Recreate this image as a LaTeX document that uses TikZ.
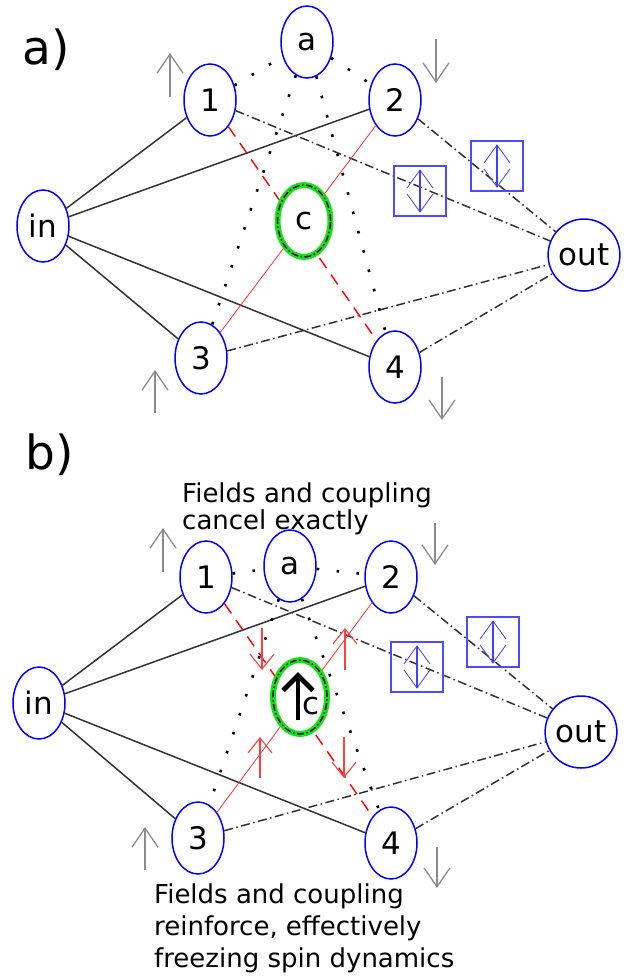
\documentclass[tikz,border=0pt]{standalone}
\usepackage{fontspec}
\setmainfont{DejaVu Sans}
\usetikzlibrary{
    shapes.geometric,
    arrows.meta,
    positioning,
    calc
}
\definecolor{ringgreen}{RGB}{25,225,25}
\definecolor{edgegray}{RGB}{50,50,50}

\begin{document}
\begin{tikzpicture}[
            x=1pt, y=-1pt,
            spin_node/.style={ellipse, draw=blue, line width=1.5pt, fill=white, minimum width=52pt, minimum height=72pt, inner sep=0pt, font=\fontsize{31}{31}\selectfont},
            centre_node/.style={ellipse, draw=ringgreen, line width=6pt, fill=white, minimum width=53pt, minimum height=72pt, inner sep=0pt, font=\fontsize{31}{31}\selectfont, postaction={draw=black, line width=1.4pt, dash pattern=on 7pt off 2.5pt on 1.5pt off 2.5pt}},
            flip_box/.style={rectangle, draw=blue!70, line width=1.3pt, minimum width=52pt, minimum height=50pt, inner sep=0pt},
            panel_label/.style={font=\fontsize{47}{47}\selectfont},
            note_text/.style={anchor=north west, inner sep=0pt, align=left},
            in_link/.style={edgegray, line width=1.5pt},
            out_link/.style={edgegray, line width=1.5pt, dash pattern=on 9pt off 3.5pt on 1.5pt off 3.5pt},
            red_dashed/.style={red, line width=1.4pt, dash pattern=on 12pt off 8pt},
            red_thin/.style={red!80, line width=0.8pt},
            loose_dots/.style={black, line width=2.6pt, dash pattern=on 2.6pt off 17.4pt},
            field_arrow/.style={-{Straight Barb[length=19pt, width=26pt]}, black!45, line width=1.3pt},
            flip_arrow/.style={{Straight Barb[length=18pt, width=26pt, line width=0.8pt]}-{Straight Barb[length=18pt, width=26pt, line width=0.8pt]}, blue!75, line width=2.2pt, shorten <=4pt, shorten >=4pt},
            red_arrow/.style={-{Straight Barb[length=15pt, width=24pt]}, red!75, line width=1.1pt},
            spin_c_arrow/.style={-{Straight Barb[length=15pt, width=30pt]}, black, line width=4.8pt}
        ]
    \useasboundingbox (0,0) rectangle (626,979);

    % panel a
    \node[panel_label] (label_top) at (46,50) {a)};

    \node[spin_node] (a_top) at (307,42) {a};

    \node[spin_node] (one_top) at (210,100) {1};

    \node[spin_node] (two_top) at (395,100) {2};

    \node[spin_node] (in_top) at (43,226) {in};

    \node[spin_node] (three_top) at (201,358) {3};

    \node[spin_node] (four_top) at (395,367) {4};

    \node[spin_node] (out_top) at (584,255) {out};

    \draw[in_link] (in_top) -- (one_top);
    \draw[in_link] (in_top) -- (two_top);
    \draw[in_link] (in_top) -- (three_top);
    \draw[in_link] (in_top) -- (four_top);

    \draw[out_link] (one_top) -- (out_top);
    \draw[out_link] (two_top) -- (out_top);
    \draw[out_link] (three_top) -- (out_top);
    \draw[out_link] (four_top) -- (out_top);

    \draw[red_dashed] (one_top) -- (four_top);
    \draw[red_thin] (two_top) -- (three_top);

    \draw[loose_dots] (one_top) -- (a_top);
    \draw[loose_dots] (a_top) -- (two_top);
    \draw[loose_dots] (a_top) -- (three_top);
    \draw[loose_dots] (a_top) -- (four_top);

    \node[centre_node] (c_top) at (304,221) {c};

    \node[flip_box] (box1_top) at (420,191) {};
    \node[flip_box] (box2_top) at (497,166) {};
    \draw[flip_arrow] (box1_top.south) -- (box1_top.north);
    \draw[flip_arrow] (box2_top.south) -- (box2_top.north);

    \draw[field_arrow] (170,97) -- (170,53);
    \draw[field_arrow] (436,39) -- (436,83);
    \draw[field_arrow] (155,413) -- (155,370);
    \draw[field_arrow] (442,377) -- (442,420);

    % panel b
    \node[panel_label] (label_bot) at (50,455) {b)};

    \node[note_text, font=\fontsize{26}{25}\selectfont] (note_cancel) at (182,483) {Fields and coupling\\cancel exactly};

    \node[spin_node] (a_bot) at (290,566) {a};

    \node[spin_node] (one_bot) at (206,577) {1};

    \node[spin_node] (two_bot) at (391,577) {2};

    \node[spin_node] (in_bot) at (39,703) {in};

    \node[spin_node] (three_bot) at (198,838) {3};

    \node[spin_node] (four_bot) at (391,843) {4};

    \node[spin_node] (out_bot) at (581,732) {out};

    \draw[in_link] (in_bot) -- (one_bot);
    \draw[in_link] (in_bot) -- (two_bot);
    \draw[in_link] (in_bot) -- (three_bot);
    \draw[in_link] (in_bot) -- (four_bot);

    \draw[out_link] (one_bot) -- (out_bot);
    \draw[out_link] (two_bot) -- (out_bot);
    \draw[out_link] (three_bot) -- (out_bot);
    \draw[out_link] (four_bot) -- (out_bot);

    \draw[red_dashed] (one_bot) -- (four_bot);
    \draw[red_thin] (two_bot) -- (three_bot);

    \draw[loose_dots] (one_bot) -- (a_bot);
    \draw[loose_dots] (a_bot) -- (two_bot);
    \draw[loose_dots] (a_bot) -- (three_bot);
    \draw[loose_dots] (a_bot) -- (four_bot);

    \node[centre_node, minimum width=54pt, minimum height=74pt] (c_bot) at (300,697) {};
    \draw[spin_c_arrow] ($(c_bot.center)+(-2,23)$) -- ($(c_bot.center)+(-2,-25)$);
    \node[font=\fontsize{31}{31}\selectfont, inner sep=0pt] (c_bot_text) at (311,706) {c};

    \draw[red_arrow] (262,628) -- (262,670);
    \draw[red_arrow] (345,670) -- (345,628);
    \draw[red_arrow] (260,778) -- (260,737);
    \draw[red_arrow] (344,737) -- (344,778);

    \node[flip_box] (box1_bot) at (417,667) {};
    \node[flip_box] (box2_bot) at (493,642) {};
    \draw[flip_arrow] (box1_bot.south) -- (box1_bot.north);
    \draw[flip_arrow] (box2_bot.south) -- (box2_bot.north);

    \draw[field_arrow] (163,572) -- (163,528);
    \draw[field_arrow] (435,523) -- (435,565);
    \draw[field_arrow] (145,870) -- (145,827);
    \draw[field_arrow] (437,847) -- (437,888);

    \node[note_text, font=\fontsize{26}{32}\selectfont] (note_freeze) at (154,884) {Fields and coupling\\reinforce, effectively\\freezing spin dynamics};

\end{tikzpicture}
\end{document}
